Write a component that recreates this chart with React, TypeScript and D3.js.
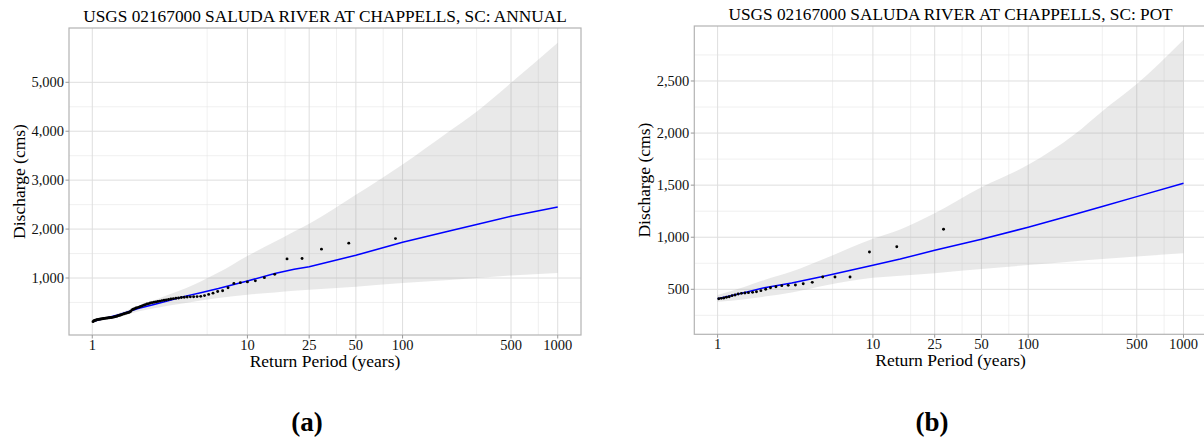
import React from "react";
import * as d3 from "d3";

// return-period axis, shared by both panels
const xTicks = [1, 10, 25, 50, 100, 500, 1000];
const xMinor = [5.5, 17.5, 37.5, 75, 300, 750];

// (a) annual maxima: plotting positions (years) and discharge (cms)
const annualT = [
  90, 45, 30, 22.5, 18, 15, 12.86, 11.25, 10, 9, 8.18, 7.5, 6.92, 6.43, 6, 5.625, 5.29,
  5, 4.737, 4.5, 4.286, 4.091, 3.913, 3.75, 3.6, 3.462, 3.333, 3.214, 3.103, 3, 2.903,
  2.8125, 2.727, 2.647, 2.571, 2.5, 2.432, 2.368, 2.308, 2.25, 2.195, 2.143, 2.093, 2.045,
  2, 1.957, 1.915, 1.875, 1.837, 1.8, 1.765, 1.731, 1.698, 1.667, 1.636, 1.607, 1.579,
  1.552, 1.525, 1.5, 1.475, 1.452, 1.429, 1.406, 1.385, 1.364, 1.343, 1.324, 1.304, 1.286,
  1.268, 1.25, 1.233, 1.216, 1.2, 1.184, 1.169, 1.154, 1.139, 1.125, 1.111, 1.098, 1.084,
  1.071, 1.059, 1.047, 1.034, 1.023, 1.011,
];
const annualQ = [
  1805, 1712, 1590, 1400, 1390, 1075, 1007, 942, 920, 905, 890, 800, 740, 725, 690, 665, 640,
  625, 620, 618, 615, 612, 608, 600, 592, 585, 578, 570, 560, 552, 545,
  538, 528, 520, 512, 505, 496, 488, 476, 468, 455, 445, 430, 418,
  405, 395, 388, 372, 362, 345, 315, 300, 292, 285, 278, 270, 262,
  252, 245, 238, 230, 222, 215, 210, 205, 200, 196, 193, 190, 188,
  185, 182, 180, 177, 175, 172, 168, 165, 162, 160, 158, 155, 150,
  146, 140, 135, 130, 122, 108,
];
const annualCurveT = [1.01, 1.25, 1.5, 2, 2.5, 3, 4, 5, 6.5, 10, 15, 20, 25, 50, 100, 200, 300, 500, 1000];
const annualFit = [110, 190, 255, 380, 460, 525, 630, 700, 785, 940, 1090, 1180, 1231, 1464, 1730, 1960, 2095, 2261, 2451];
const annualLow = [105, 160, 210, 320, 380, 430, 490, 540, 590, 660, 705, 740, 760, 822, 898, 960, 1000, 1050, 1102];
const annualUp = [115, 200, 290, 430, 540, 640, 790, 930, 1110, 1450, 1740, 1950, 2110, 2700, 3320, 4000, 4400, 4990, 5810];
const annualYTicks = [1000, 2000, 3000, 4000, 5000];
const annualYMinor = [500, 1500, 2500, 3500, 4500];

// (b) peaks over threshold
const potT = [
  28.5, 14.25, 9.5, 7.125, 5.7, 4.75, 4.07, 3.56, 3.17, 2.85, 2.59, 2.375, 2.19, 2.04,
  1.9, 1.78, 1.68, 1.58, 1.5, 1.425, 1.357, 1.295, 1.239, 1.1875, 1.14, 1.096, 1.056, 1.018,
];
const potQ = [
  1076, 909, 858, 618, 618, 618, 567, 554, 541, 538, 535, 525, 515, 500,
  487, 477, 471, 468, 464, 461, 455, 445, 439, 429, 423, 416, 413, 410,
];
const potCurveT = [1, 1.5, 2, 3, 5, 10, 15, 25, 50, 100, 200, 300, 500, 1000];
const potFit = [410, 470, 515, 560, 630, 730, 790, 875, 980, 1096, 1220, 1295, 1390, 1519];
const potLow = [380, 405, 430, 470, 540, 610, 630, 655, 695, 733, 770, 790, 815, 846];
const potUp = [445, 525, 590, 670, 800, 985, 1075, 1230, 1480, 1695, 1990, 2210, 2470, 2895];
const potYTicks = [500, 1000, 1500, 2000, 2500];
const potYMinor = [250, 750, 1250, 1750, 2250, 2750];

const FONT = "'Liberation Serif', 'DejaVu Serif', serif";
const fmtY = d3.format(",");

function Panel(props: any) {
  const { left, top, width, height, title, yDomain, yTicks, yMinor, ptT, ptQ, cT, fit, low, up, tag, tagX } = props;
  const x = d3.scaleLog().domain([10 ** -0.15, 10 ** 3.15]).range([left, left + width]);
  const y = d3.scaleLinear().domain(yDomain).range([top + height, top]);
  const bottom = top + height;
  const idx = cT.map((_: number, i: number) => i);

  const band = d3.area<number>().curve(d3.curveMonotoneX)
    .x(i => x(cT[i])).y0(i => y(low[i])).y1(i => y(up[i]))(idx);
  const line = d3.line<number>()
    .x(i => x(cT[i])).y(i => y(fit[i]))(idx);
  const clipId = "clip" + tag.replace(/\W/g, "");

  return (
    <g fontFamily={FONT}>
      <defs>
        <clipPath id={clipId}>
          <rect x={left} y={top} width={width} height={height} />
        </clipPath>
      </defs>
      <rect x={left} y={top} width={width} height={height} fill="white" />
      {/* grid */}
      {yMinor.map((v: number) => (
        <line key={"ym" + v} x1={left} x2={left + width} y1={y(v)} y2={y(v)} stroke="#e6e6e6" strokeWidth={0.6} />
      ))}
      {xMinor.map((v: number) => (
        <line key={"xm" + v} x1={x(v)} x2={x(v)} y1={top} y2={bottom} stroke="#e6e6e6" strokeWidth={0.6} />
      ))}
      {yTicks.map((v: number) => (
        <line key={"yg" + v} x1={left} x2={left + width} y1={y(v)} y2={y(v)} stroke="#dedede" strokeWidth={1} />
      ))}
      {xTicks.map((v: number) => (
        <line key={"xg" + v} x1={x(v)} x2={x(v)} y1={top} y2={bottom} stroke="#dedede" strokeWidth={1} />
      ))}
      <g clipPath={`url(#${clipId})`}>
        <path d={band || ""} fill="#999999" fillOpacity={0.22} />
        <path d={line || ""} fill="none" stroke="#0000ff" strokeWidth={1.5} />
        {ptT.map((t: number, i: number) => (
          <circle key={"p" + i} cx={x(t)} cy={y(ptQ[i])} r={1.45} fill="black" />
        ))}
      </g>
      <rect x={left} y={top} width={width} height={height} fill="none" stroke="#b3b3b3" strokeWidth={1.2} />
      {/* axes */}
      {yTicks.map((v: number) => (
        <g key={"yt" + v}>
          <line x1={left - 3.5} x2={left} y1={y(v)} y2={y(v)} stroke="#999" strokeWidth={1} />
          <text x={left - 5} y={y(v)} dy="0.35em" textAnchor="end" fontSize={14.5} fill="#111">{fmtY(v)}</text>
        </g>
      ))}
      {xTicks.map((v: number) => (
        <g key={"xt" + v}>
          <line x1={x(v)} x2={x(v)} y1={bottom} y2={bottom + 3.5} stroke="#999" strokeWidth={1} />
          <text x={x(v)} y={bottom + 15} textAnchor="middle" fontSize={14.5} fill="#111">{v}</text>
        </g>
      ))}
      <text x={left + width / 2} y={top - 6.5} textAnchor="middle" fontSize={17.3}>{title}</text>
      <text x={left + width / 2} y={bottom + 32} textAnchor="middle" fontSize={17.5}>Return Period (years)</text>
      <text transform={`translate(${left - 44.5},${top + height / 2}) rotate(-90)`} textAnchor="middle" fontSize={17.5}>Discharge (cms)</text>
      <text x={tagX} y={431} textAnchor="middle" fontSize={27} fontWeight="bold">{tag}</text>
    </g>
  );
}

export default function App() {
  return (
    <svg width={1204} height={441} style={{ position: "absolute", left: 0, top: 0, background: "white" }}>
      <Panel
        left={69} top={28} width={512} height={307}
        title="USGS 02167000 SALUDA RIVER AT CHAPPELLS, SC: ANNUAL"
        yDomain={[-165, 6110]} yTicks={annualYTicks} yMinor={annualYMinor}
        ptT={annualT} ptQ={annualQ} cT={annualCurveT} fit={annualFit} low={annualLow} up={annualUp}
        tag="(a)" tagX={307}
      />
      <Panel
        left={694.3} top={26} width={512.5} height={308.3}
        title="USGS 02167000 SALUDA RIVER AT CHAPPELLS, SC: POT"
        yDomain={[68, 3028]} yTicks={potYTicks} yMinor={potYMinor}
        ptT={potT} ptQ={potQ} cT={potCurveT} fit={potFit} low={potLow} up={potUp}
        tag="(b)" tagX={932}
      />
    </svg>
  );
}
